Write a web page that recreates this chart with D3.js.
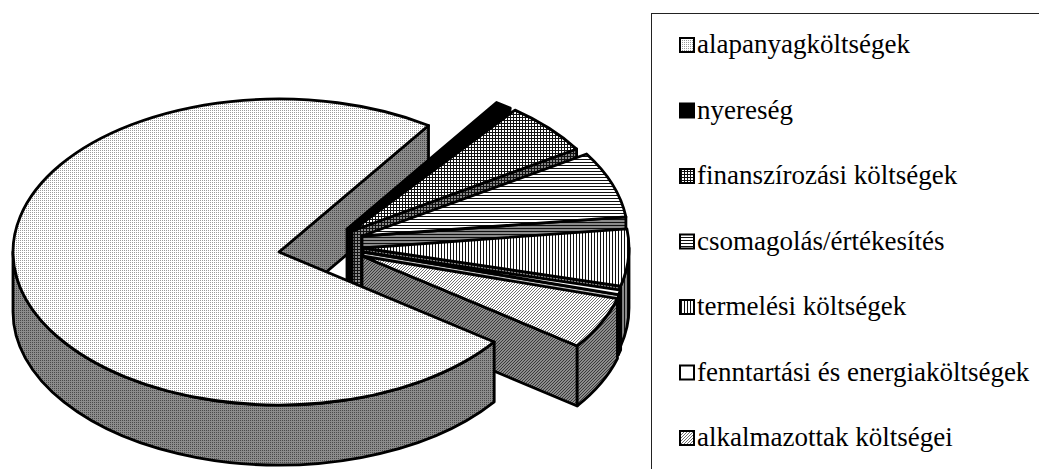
<!DOCTYPE html>
<html>
<head>
<meta charset="utf-8">
<script src="https://cdn.jsdelivr.net/npm/d3@7"></script>
</head>
<body style="margin:0">
<svg id="chart" width="1039" height="469" font-family="Liberation Serif"></svg>
<script>
// Cost structure (percent of total)
const categories = [
  "alapanyagköltségek",
  "nyereség",
  "finanszírozási költségek",
  "csomagolás/értékesítés",
  "termelési költségek",
  "fenntartási és energiaköltségek",
  "alkalmazottak költségei"
];
const shares = [74.5, 1.0, 5.5, 7.0, 6.0, 0.5, 5.5];

// Fill style per category: pattern kind
const fillKinds = ["dots", "solid", "grid", "hlines", "vlines", "blank", "diag"];

// Pie geometry (screen pixels)
const center = [279, 252];
const rx = 266, ry = 153, depth = 60;
const firstAngleDeg = 36;            // where the first slice starts, clockwise from 3 o'clock
// Apex displacement of each exploded slice
const sliceShift = [[0, 0], [68, -23], [73, -21], [83, -16], [84, -4], [84, 0], [83, 4]];

const svg = d3.select("#chart");
const deg = Math.PI / 180;

// Legend first, so its text is laid out with the rest of the page
const legend = svg.append("g");
legend.append("rect")
  .attr("x", 651.5).attr("y", 13.5).attr("width", 440).attr("height", 500)
  .attr("fill", "none").attr("stroke", "#222").attr("stroke-width", 1);

const legendY = d3.scalePoint().domain(categories).range([45, 438]);
const sw = 14;
const swatches = [];
categories.forEach((c, i) => {
  const cy = legendY(c);
  swatches.push(legend.append("rect")
    .attr("x", 680).attr("y", cy - sw / 2).attr("width", sw).attr("height", sw)
    .attr("stroke", "#000").attr("stroke-width", 2));
  legend.append("text")
    .attr("x", 697).attr("y", cy + 8)
    .attr("font-family", "Liberation Serif")
    .attr("font-size", 27)
    .text(c);
});

const defs = svg.append("defs");

function makePattern(id, w, h, bg, draw) {
  const p = defs.append("pattern")
    .attr("id", id)
    .attr("patternUnits", "userSpaceOnUse")
    .attr("width", w).attr("height", h);
  p.append("rect").attr("width", w).attr("height", h).attr("fill", bg);
  draw(p);
}
function rect(p, x, y, w, h, c) {
  p.append("rect").attr("x", x).attr("y", y).attr("width", w).attr("height", h).attr("fill", c);
}

const painters = {
  dots: (id, bg, ink) => makePattern(id, 2, 2, bg, p => rect(p, 0, 0, 1, 1, ink)),
  grid: (id, bg, ink) => makePattern(id, 3, 3, bg, p => { rect(p, 0, 0, 3, 1, ink); rect(p, 0, 0, 1, 3, ink); }),
  hlines: (id, bg, ink) => makePattern(id, 3, 3, bg, p => rect(p, 0, 0, 3, 1, ink)),
  vlines: (id, bg, ink) => makePattern(id, 3, 3, bg, p => rect(p, 0, 0, 1, 3, ink)),
  diag: (id, bg, ink) => makePattern(id, 3, 3, bg, p => p.append("path")
      .attr("d", "M-1,1L1,-1M0,3L3,0M2,4L4,2")
      .attr("stroke", ink).attr("stroke-width", 1))
};

// top faces are light, side walls are shaded
const topColors = { dots: ["#fff", "#9a9a9a"], grid: ["#fff", "#111"], hlines: ["#fff", "#111"],
                    vlines: ["#fff", "#111"], diag: ["#fff", "#707070"] };
const sideColors = { dots: ["#8c8c8c", "#4a4a4a"], grid: ["#8a8a8a", "#111"], hlines: ["#8a8a8a", "#111"],
                     vlines: ["#8a8a8a", "#111"], diag: ["#8c8c8c", "#3a3a3a"] };

function fillFor(kind, face) {
  if (kind === "solid") return "#000";
  if (kind === "blank") return face === "top" ? "#fff" : "#c4c4c4";
  return `url(#${kind}-${face})`;
}
Object.keys(painters).forEach(k => {
  painters[k](`${k}-top`, ...topColors[k]);
  painters[k](`${k}-side`, ...sideColors[k]);
});
swatches.forEach((s, i) => s.attr("fill", fillFor(fillKinds[i], "top")));

// Angles from d3.pie (clockwise from 12 o'clock) turned into screen angles (clockwise from 3 o'clock)
const start = (firstAngleDeg + 90) * deg;
const arcs = d3.pie().sort(null).value(d => d)
  .startAngle(start).endAngle(start + 2 * Math.PI)(shares)
  .map((a, i) => ({
    i,
    a0: a.startAngle - Math.PI / 2,
    a1: a.endAngle - Math.PI / 2,
    o: [center[0] + sliceShift[i][0], center[1] + sliceShift[i][1]]
  }));

function pt(o, a, z) { return [o[0] + rx * Math.cos(a), o[1] + ry * Math.sin(a) + z]; }

function topPath(s) {
  const p0 = pt(s.o, s.a0, 0), p1 = pt(s.o, s.a1, 0);
  const large = (s.a1 - s.a0) > Math.PI ? 1 : 0;
  return `M${s.o[0]},${s.o[1]}L${p0[0]},${p0[1]}A${rx},${ry} 0 ${large} 1 ${p1[0]},${p1[1]}Z`;
}
function radialWall(s, a) {
  const p = pt(s.o, a, 0);
  return `M${s.o[0]},${s.o[1]}L${p[0]},${p[1]}L${p[0]},${p[1] + depth}L${s.o[0]},${s.o[1] + depth}Z`;
}
function outerWalls(s) {
  // rim is visible where it faces the viewer: screen angles in (0, π) modulo 2π
  const k = Math.floor(s.a0 / (2 * Math.PI));
  const a0 = s.a0 - k * 2 * Math.PI, a1 = s.a1 - k * 2 * Math.PI;
  const out = [];
  [[0, Math.PI], [2 * Math.PI, 3 * Math.PI]].forEach(([v0, v1]) => {
    const b0 = Math.max(a0, v0), b1 = Math.min(a1, v1);
    if (b1 > b0 + 1e-6) {
      const p0 = pt(s.o, b0, 0), p1 = pt(s.o, b1, 0);
      out.push(`M${p0[0]},${p0[1]}A${rx},${ry} 0 0 1 ${p1[0]},${p1[1]}` +
               `L${p1[0]},${p1[1] + depth}A${rx},${ry} 0 0 0 ${p0[0]},${p0[1] + depth}Z`);
    }
  });
  return out;
}

const g = svg.append("g")
  .attr("stroke", "#000").attr("stroke-width", 2.8).attr("stroke-linejoin", "round");

function drawFace(d, kind, face) {
  g.append("path").attr("d", d).attr("fill", fillFor(kind, face));
}

// back wall of the large slice, behind the exploded ones
const big = arcs[0];
drawFace(radialWall(big, big.a1), fillKinds[0], "side");

// exploded slices, back to front
arcs.slice(1).forEach(s => {
  const kind = fillKinds[s.i];
  drawFace(radialWall(s, s.a1), kind, "side");
  outerWalls(s).forEach(d => drawFace(d, kind, "side"));
  drawFace(topPath(s), kind, "top");
});

// the large slice in front
outerWalls(big).forEach(d => drawFace(d, fillKinds[0], "side"));
drawFace(topPath(big), fillKinds[0], "top");
</script>
</body>
</html>
